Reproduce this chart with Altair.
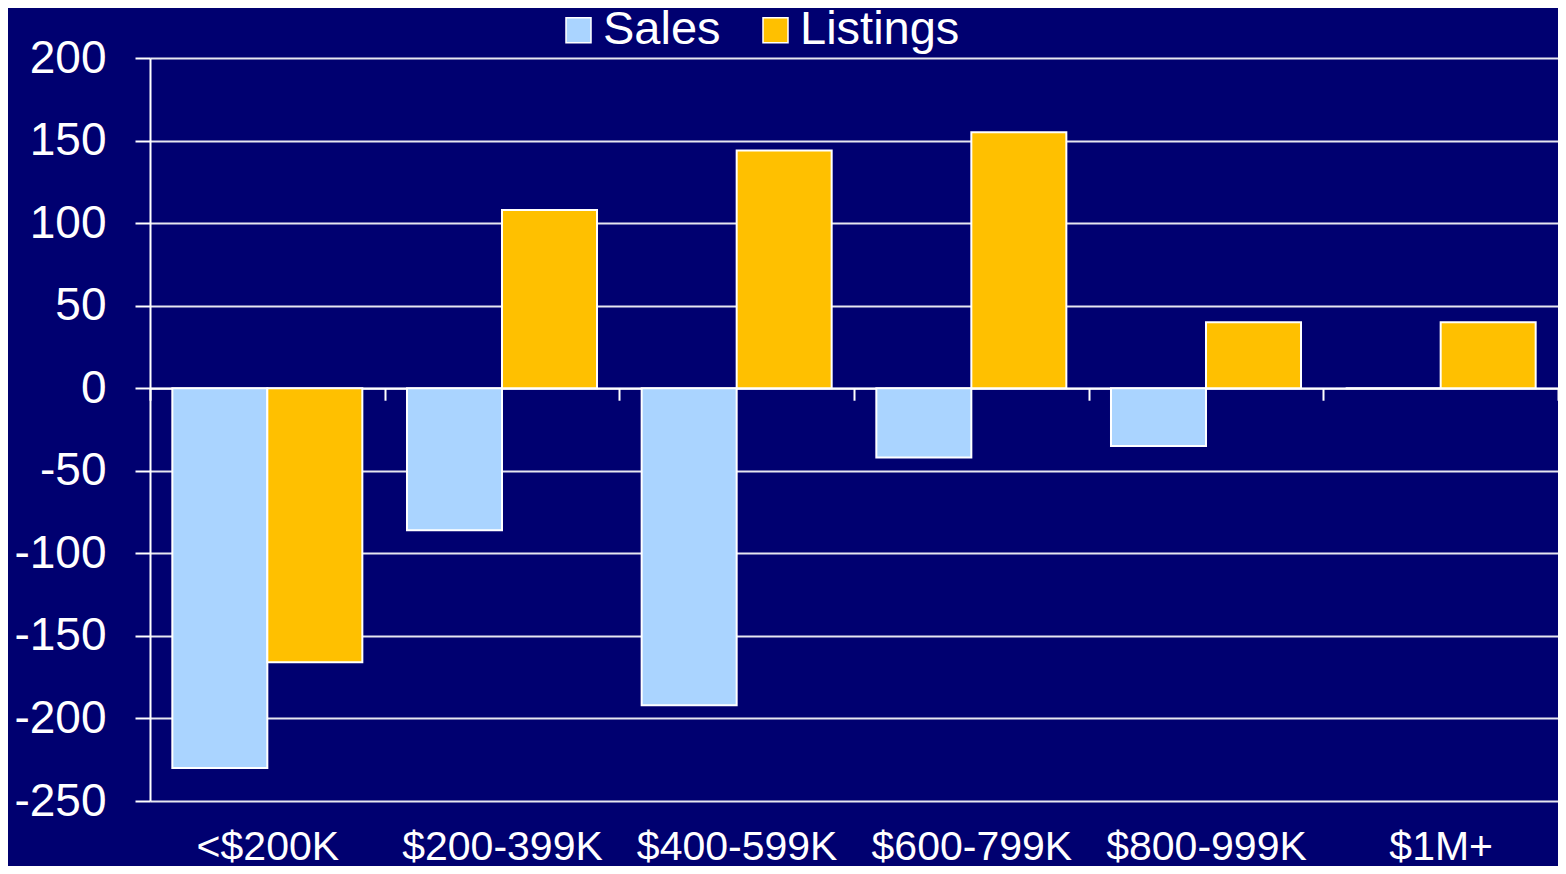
import altair as alt
import pandas as pd

categories = ["<$200K", "$200-399K", "$400-599K", "$600-799K", "$800-999K", "$1M+"]
series = ["Sales", "Listings"]
sales = [-230, -86, -192, -42, -35, 0]
listings = [-166, 108, 144, 155, 40, 40]
y_ticks = [-250, -200, -150, -100, -50, 0, 50, 100, 150, 200]

rows = []
for c, s, l in zip(categories, sales, listings):
    rows.append({"range": c, "series": "Sales", "value": s})
    rows.append({"range": c, "series": "Listings", "value": l})
df = pd.DataFrame(rows)

BG = "#000070"
FONT = "Liberation Sans"
W, H = 1408, 743
zero_offset = -(H * 250 / 450)

chart = alt.Chart(df).mark_bar(stroke="white", strokeWidth=2).encode(
    x=alt.X(
        "range:N", sort=categories, title=None,
        scale=alt.Scale(paddingInner=0, paddingOuter=0),
        axis=alt.Axis(
            orient="bottom", offset=zero_offset, domainColor="white", domainWidth=2,
            ticks=True, tickBand="extent", tickColor="white", tickSize=12, tickWidth=2,
            labelAngle=0, labelColor="white", labelFont=FONT, labelFontSize=41,
            labelBaseline="alphabetic", labelPadding=459, labelLimit=0, grid=False,
        ),
    ),
    xOffset=alt.XOffset("series:N", sort=series,
                        scale=alt.Scale(paddingInner=0, paddingOuter=0.235)),
    y=alt.Y(
        "value:Q", title=None,
        scale=alt.Scale(domain=[-250, 200], nice=False, zero=False),
        axis=alt.Axis(
            values=y_ticks, domainColor="white", domainWidth=2,
            tickColor="white", tickSize=15, tickWidth=2,
            gridColor="#E6E6F0", gridWidth=2,
            labelColor="white", labelFontSize=46, labelFont=FONT, labelPadding=29,
            labelExpr="datum.value < 0 ? '-' + abs(datum.value) : '' + datum.value",
        ),
    ),
    color=alt.Color(
        "series:N", sort=series,
        scale=alt.Scale(domain=series, range=["#AAD4FF", "#FFC000"]),
        legend=alt.Legend(
            title=None, orient="none", direction="horizontal",
            legendX=405, legendY=-51.5, padding=0,
            labelColor="white", labelFont=FONT, labelFontSize=47, labelLimit=400,
            symbolType="square", symbolSize=625, symbolStrokeColor="white",
            symbolStrokeWidth=1.5, symbolOpacity=1, labelOffset=1, columnPadding=31,
        ),
    ),
).properties(
    width=W, height=H,
    padding={"left": 142, "top": 50, "right": 0, "bottom": 65},
    autosize=alt.AutoSizeParams(type="none"),
    background=BG,
).configure_view(stroke=None)

chart.save("out.html", embed_options={"renderer": "svg", "actions": False})
